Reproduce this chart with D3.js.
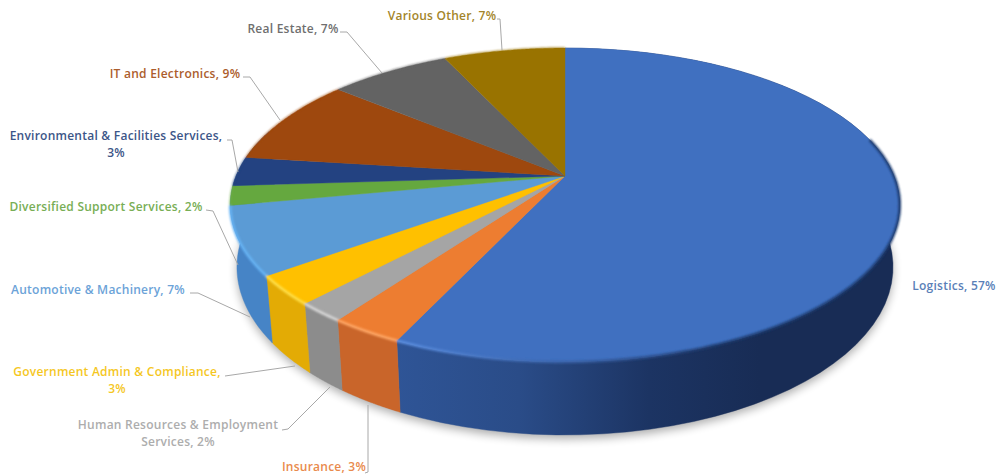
<!DOCTYPE html>
<html>
<head>
<meta charset="utf-8">
<script src="https://cdn.jsdelivr.net/npm/d3@7"></script>
<style>
  html, body { margin: 0; padding: 0; background: #fff; }
  svg { display: block; }
  text { font-family: "Open Sans", sans-serif; font-weight: 600; font-size: 12px; letter-spacing: 0.24px; }
</style>
</head>
<body>
<svg id="chart" width="997" height="475"></svg>
<script>
// Sector shares, in percent, clockwise from twelve o'clock
const sectors = ["Logistics", "Insurance", "Human Resources & Employment Services",
  "Government Admin & Compliance", "Automotive & Machinery", "Diversified Support Services",
  "Environmental & Facilities Services", "IT and Electronics", "Real Estate", "Various Other"];
const shares = [57, 3, 2, 3, 7, 2, 3, 9, 7, 7];
const faceColors = ["#4070c0", "#ed7d31", "#a5a5a5", "#ffc000", "#5b9bd5", "#65a83f", "#234281", "#9e480e", "#636363", "#997300"];
const wallColors = ["#2f5597", "#c9652a", "#8c8c8c", "#e3ab05", "#4684c6", "#5a9638", "#1e3768", "#85400f", "#545454", "#806000"];
const rimColors = ["#5f93e6", "#ffa766", "#d8d8d8", "#ffe04a", "#66b4f5", "#70ad47", "#264478", "#9e480e", "#636363", "#997300"];
const labelColors = ["#5a7fb8", "#e98a4c", "#adadad", "#f5c71f", "#6ca3d8", "#78ae55", "#3c5688", "#ac5d2c", "#6f6f6f", "#a3852a"];

// Label text lines with their anchor point and the leader line running to the pie
const labelLayout = [
  { lines: ["Logistics, 57%"], x: 954, y: 290, leader: [] },
  { lines: ["Insurance, 3%"], x: 324, y: 471, leader: [[365, 473], [368, 472], [368, 405]] },
  { lines: ["Human Resources & Employment", "Services, 2%"], x: 178, y: 429, leader: [[282, 430], [288, 429], [330, 387]] },
  { lines: ["Government Admin & Compliance,", "3%"], x: 117, y: 376, leader: [[225, 376], [295, 366]] },
  { lines: ["Automotive & Machinery, 7%"], x: 98, y: 294, leader: [[190, 293], [198, 293], [250, 317]] },
  { lines: ["Diversified Support Services, 2%"], x: 106, y: 211, leader: [[206, 210], [213, 211], [238, 265]] },
  { lines: ["Environmental & Facilities Services,", "3%"], x: 116, y: 140, leader: [[227, 140], [232, 140], [238, 172]] },
  { lines: ["IT and Electronics, 9%"], x: 175, y: 78, leader: [[243, 77], [250, 77], [280, 120]] },
  { lines: ["Real Estate, 7%"], x: 293, y: 33, leader: [[340, 32], [347, 32], [382, 73]] },
  { lines: ["Various Other, 7%"], x: 442, y: 20, leader: [[497, 19], [500, 19], [502, 50]] }
];

const svg = d3.select("#chart");
const defs = svg.append("defs");

// Perspective view of the disc: the hub sits above the centre of the outline
const hub = { x: 565, y: 176 };
const view = { width: 329, rise: 151.6, tilt: 0.1847 };
const base = { scaleX: 0.98, scaleY: 1.07, drop: 60 };

function project(angle, level) {
  const u = Math.sin(angle), v = -Math.cos(angle);
  const w = 1 - view.tilt * v;
  const px = view.width * u / w, py = view.rise * v / w;
  return level === 0
    ? [hub.x + px, hub.y + py]
    : [hub.x + px * base.scaleX, hub.y + py * base.scaleY + base.drop];
}

const slices = d3.pie().sort(null).value(d => d)(shares);
const arcAngles = (a, b) => d3.range(0, 61).map(i => a + (b - a) * i / 60);
const outline = d3.line();

// Slices past the Automotive wedge face away; its wall wraps on to the silhouette
const wrapAngle = 1.6 * Math.PI;
const wallEnd = (d, i) => i === 4 ? wrapAngle : d.endAngle;
// The long rim only begins near the right-hand tip of the disc
const rimStart = (d, i) => i === 0 ? Math.PI * 0.42 : d.startAngle;

defs.append("filter").attr("id", "shadow").attr("x", "-10%").attr("y", "-10%").attr("width", "120%").attr("height", "130%")
  .append("feGaussianBlur").attr("stdDeviation", 5);
defs.append("filter").attr("id", "soft").attr("x", "-5%").attr("y", "-5%").attr("width", "110%").attr("height", "110%")
  .append("feGaussianBlur").attr("stdDeviation", 0.8);

// The large wall fades from mid blue to near navy going right
const wallFade = defs.append("linearGradient").attr("id", "wallFade")
  .attr("gradientUnits", "userSpaceOnUse").attr("x1", 390).attr("x2", 760).attr("y1", 0).attr("y2", 0);
[[0, "#2f5597"], [0.35, "#2a4c88"], [0.7, "#1c3463"], [1, "#182c55"]].forEach(([o, c]) =>
  wallFade.append("stop").attr("offset", o).attr("stop-color", c));

const rimFade = defs.append("linearGradient").attr("id", "rimFade")
  .attr("gradientUnits", "userSpaceOnUse").attr("x1", 390).attr("x2", 720).attr("y1", 0).attr("y2", 0);
[[0, "#5f93e6"], [0.45, "#3d68b0"], [1, "#1e3a6e"]].forEach(([o, c]) =>
  rimFade.append("stop").attr("offset", o).attr("stop-color", c));

// Ground shadow under the disc
svg.append("path")
  .attr("d", outline(arcAngles(0, 2 * Math.PI).map(a => project(a, 1))) + "Z")
  .attr("transform", "translate(0,4)")
  .attr("fill", "#000").attr("opacity", 0.32).attr("filter", "url(#shadow)");

// Outer walls of the front slices: the top face covers whatever lies behind them
svg.append("g").selectAll("path").data(slices.filter((d, i) => i <= 4)).join("path")
  .attr("d", (d, i) => {
    const a = arcAngles(d.startAngle, wallEnd(d, i));
    return outline(a.map(t => project(t, 0)).concat(a.slice().reverse().map(t => project(t, 1)))) + "Z";
  })
  .attr("fill", (d, i) => i === 0 ? "url(#wallFade)" : wallColors[i])
  .attr("stroke", (d, i) => i === 0 ? "url(#wallFade)" : wallColors[i]).attr("stroke-width", 0.4);

// Top face
svg.append("g").selectAll("path").data(slices).join("path")
  .attr("d", d => outline([[hub.x, hub.y]].concat(arcAngles(d.startAngle, d.endAngle).map(t => project(t, 0)))) + "Z")
  .attr("fill", (d, i) => faceColors[i])
  .attr("stroke", (d, i) => faceColors[i]).attr("stroke-width", 0.4);

// Bevelled rim on the upper edge of each wall
svg.append("g").attr("filter", "url(#soft)").attr("fill", "none").selectAll("path").data(slices).join("path")
  .attr("d", (d, i) => outline(arcAngles(rimStart(d, i), d.endAngle).map(t => project(t, 0))))
  .attr("stroke", (d, i) => i === 0 ? "url(#rimFade)" : rimColors[i])
  .attr("stroke-width", (d, i) => i <= 4 ? 2.6 : 1.2);

// Leader lines and labels
svg.append("g").attr("fill", "none").attr("stroke", "#a8a8a8").attr("stroke-width", 1)
  .selectAll("path").data(labelLayout.filter(d => d.leader.length)).join("path")
  .attr("d", d => outline(d.leader));

const labels = svg.append("g").selectAll("text").data(labelLayout).join("text")
  .attr("text-anchor", "middle")
  .attr("fill", (d, i) => labelColors[i]);
labels.selectAll("tspan").data(d => d.lines.map((line, k) => ({ line, k, x: d.x, y: d.y }))).join("tspan")
  .attr("x", d => d.x).attr("y", d => d.y + d.k * 17)
  .text(d => d.line);
</script>
</body>
</html>
